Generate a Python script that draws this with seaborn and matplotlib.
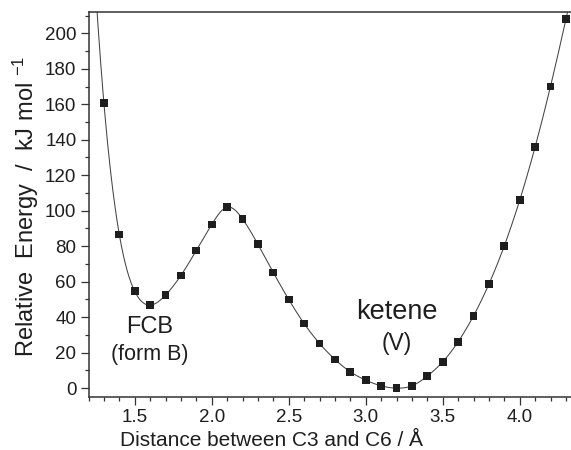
import numpy as np
import pandas as pd
import matplotlib
matplotlib.use("Agg")
import matplotlib.pyplot as plt
from matplotlib.ticker import MultipleLocator, FixedLocator
import seaborn as sns

# Scan of the C3-C6 distance and the relative energy at each step
distance = [1.3, 1.4, 1.5, 1.6, 1.7, 1.8, 1.9, 2.0, 2.1, 2.2, 2.3, 2.4, 2.5, 2.6,
            2.7, 2.8, 2.9, 3.0, 3.1, 3.2, 3.3, 3.4, 3.5, 3.6, 3.7, 3.8, 3.9, 4.0,
            4.1, 4.2, 4.3]
energy = [160.7, 86.6, 54.6, 46.8, 52.4, 63.5, 77.6, 92.2, 102.0, 95.4, 81.1,
          65.2, 50.0, 36.4, 25.2, 16.2, 9.2, 4.5, 1.3, 0.0, 1.3, 6.8, 14.8,
          26.1, 40.7, 58.6, 80.2, 105.9, 135.9, 170.1, 207.9]

x_major = [1.5, 2.0, 2.5, 3.0, 3.5, 4.0]
y_major = [0, 20, 40, 60, 80, 100, 120, 140, 160, 180, 200]

annotations = [("FCB", 1.60, 34.5, 17),
               ("(form B)", 1.60, 19.0, 15.5),
               ("ketene", 3.20, 43.0, 19.5),
               ("(V)", 3.20, 25.0, 16.5)]


def not_a_knot_spline(x, y, xs):
    """Cubic spline (not-a-knot ends) through equally spaced points."""
    x = np.asarray(x, float)
    y = np.asarray(y, float)
    n = len(x)
    h = x[1] - x[0]
    A = np.zeros((n, n))
    b = np.zeros(n)
    for i in range(1, n - 1):
        A[i, i - 1:i + 2] = [1.0, 4.0, 1.0]
        b[i] = 6.0 / h ** 2 * (y[i + 1] - 2 * y[i] + y[i - 1])
    A[0, 0:3] = [1.0, -2.0, 1.0]
    A[-1, -3:] = [1.0, -2.0, 1.0]
    M = np.linalg.solve(A, b)
    idx = np.clip(np.floor((xs - x[0]) / h).astype(int), 0, n - 2)
    x0, x1 = x[idx], x[idx + 1]
    return (M[idx] * (x1 - xs) ** 3 / (6 * h)
            + M[idx + 1] * (xs - x0) ** 3 / (6 * h)
            + (y[idx] / h - M[idx] * h / 6) * (x1 - xs)
            + (y[idx + 1] / h - M[idx + 1] * h / 6) * (xs - x0))


points = pd.DataFrame({"distance": distance, "energy": energy})
xs = np.linspace(1.2, 4.32, 800)
curve = pd.DataFrame({"distance": xs,
                      "energy": not_a_knot_spline(distance, energy, xs)})

sns.set_theme(style="ticks")
plt.rcParams["font.family"] = ["Liberation Sans", "DejaVu Sans"]
plt.rcParams["mathtext.fontset"] = "custom"
plt.rcParams["mathtext.rm"] = "Liberation Sans"
plt.rcParams["mathtext.it"] = "Liberation Sans"

ink = "#1e1e1e"
W, H = 571, 450
fig = plt.figure(figsize=(W / 100, H / 100), dpi=100)
left_px, right_px, top_px, bottom_px = 88.5, 571, 12, 397
ax = fig.add_axes([left_px / W, 1 - bottom_px / H,
                   (right_px - left_px) / W, (bottom_px - top_px) / H])

sns.lineplot(data=curve, x="distance", y="energy", ax=ax, color="#444444",
             linewidth=0.75, sort=False, estimator=None, zorder=2)
sns.scatterplot(data=points, x="distance", y="energy", ax=ax, marker="s",
                s=30, color=ink, edgecolor="none", linewidth=0, zorder=3)

ax.set_xlim(1.2, 1.2 + (right_px - left_px) / 154.0)
ax.set_ylim(-5.0, 212.0)

ax.xaxis.set_major_locator(FixedLocator(x_major))
ax.xaxis.set_minor_locator(MultipleLocator(0.1))
ax.yaxis.set_major_locator(FixedLocator(y_major))
ax.yaxis.set_minor_locator(MultipleLocator(10))
ax.set_xticklabels([f"{v:.1f}" for v in x_major])
ax.set_yticklabels([str(v) for v in y_major])

ax.tick_params(axis="both", which="major", direction="out", length=5.5,
               width=0.9, color="#333333", labelsize=13.5, labelcolor=ink,
               pad=3.2)
ax.tick_params(axis="both", which="minor", direction="out", length=3,
               width=0.9, color="#333333")
ax.tick_params(top=False, right=False, which="both")

for side in ("left", "bottom", "top"):
    ax.spines[side].set_color("#333333")
    ax.spines[side].set_linewidth(1.1)
ax.spines["right"].set_visible(False)

ax.set_xlabel("")
ax.set_ylabel("")
fig.text(272 / W, 1 - 440 / H, "Distance between C3 and C6 / Å",
         ha="center", va="center", fontsize=15, color=ink)
fig.text(26 / W, 1 - 206 / H, r"Relative  Energy  /  kJ mol $^{-1}$",
         ha="center", va="center", rotation=90, fontsize=17, color=ink)

for text, x, y, size in annotations:
    ax.text(x, y, text, ha="center", va="center", fontsize=size, color=ink)

fig.savefig("out.png", dpi=100)
